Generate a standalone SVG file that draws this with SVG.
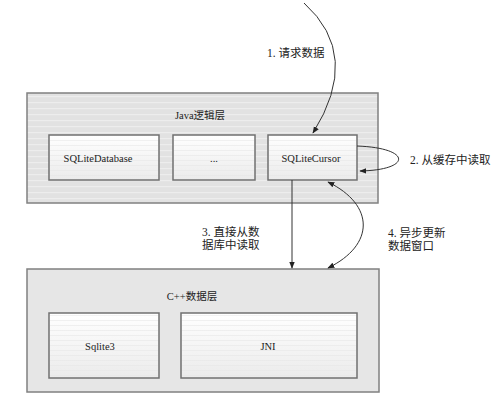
<svg xmlns="http://www.w3.org/2000/svg" width="501" height="401" viewBox="0 0 501 401">
<style>
.layer{fill:url(#outerStripe);stroke:#808080;stroke-width:1.5}
.layer2{fill:#e6e6e6;stroke:#808080;stroke-width:1.5}
.box{fill:url(#innerGrad);stroke:#707070;stroke-width:1.5}
.stripe{fill:url(#innerStripe);stroke:none}
.t{font-family:"Liberation Serif","Noto Sans CJK SC",serif;font-size:10.5px;fill:#222;text-anchor:middle}
.lbl{font-family:"Liberation Serif","Noto Sans CJK SC",serif;font-size:11.5px;fill:#222}
.c{fill:none;stroke:#333;stroke-width:1}
</style>
<defs>
<pattern id="outerStripe" width="10" height="6" patternUnits="userSpaceOnUse">
<rect width="10" height="6" fill="#e2e2e2"/>
<rect y="0" width="10" height="1.2" fill="#ededed"/>
</pattern>
<linearGradient id="innerGrad" x1="0" y1="0" x2="0" y2="1">
<stop offset="0" stop-color="#ffffff"/>
<stop offset="1" stop-color="#ebebeb"/>
</linearGradient>
<pattern id="innerStripe" width="10" height="5" patternUnits="userSpaceOnUse">
<rect y="0" width="10" height="0.8" fill="#e6e6e6" fill-opacity="0.7"/>
</pattern>
<marker id="ah" viewBox="0 0 10 10" refX="9" refY="5" markerWidth="7" markerHeight="7" orient="auto-start-reverse" markerUnits="userSpaceOnUse">
<path d="M0,1 L10,5 L0,9 Z" fill="#222"/>
</marker>
</defs>
<rect width="501" height="401" fill="#ffffff"/>
<g id="java-layer">
<rect class="layer" x="27" y="93" width="351" height="110"/>
<text class="t" x="200" y="119" font-size="11">Java逻辑层</text>
</g>
<g id="sqlitedatabase">
<rect class="box" x="49" y="135" width="110" height="45"/>
<rect class="stripe" x="50" y="136" width="108" height="43"/>
<text class="t" x="98" y="162">SQLiteDatabase</text>
</g>
<g id="ellipsis">
<rect class="box" x="173" y="135" width="82" height="45"/>
<rect class="stripe" x="174" y="136" width="80" height="43"/>
<text class="t" x="214" y="162">...</text>
</g>
<g id="sqlitecursor">
<rect class="box" x="268" y="135" width="89" height="45"/>
<rect class="stripe" x="269" y="136" width="87" height="43"/>
<text class="t" x="311" y="162">SQLiteCursor</text>
</g>
<g id="cpp-layer">
<rect class="layer2" x="27" y="269" width="352" height="123"/>
<text class="t" x="192" y="300" font-size="11">C++数据层</text>
</g>
<g id="sqlite3">
<rect class="box" x="49" y="313" width="110" height="65"/>
<rect class="stripe" x="50" y="314" width="108" height="63"/>
<text class="t" x="100" y="350">Sqlite3</text>
</g>
<g id="jni">
<rect class="box" x="181" y="313" width="176" height="65"/>
<rect class="stripe" x="182" y="314" width="174" height="63"/>
<text class="t" x="268" y="350">JNI</text>
</g>
<g id="connectors">
<path class="c" d="M304,3 Q362,55 313,133" marker-end="url(#ah)"/>
<path class="c" d="M357,146 C412,148 412,170 360,171" marker-end="url(#ah)"/>
<path class="c" d="M292,180 L292,268" marker-end="url(#ah)"/>
<path class="c" d="M328,182 C375,205 375,245 328,268" marker-start="url(#ah)" marker-end="url(#ah)"/>
</g>
<g id="labels">
<text class="lbl" x="267" y="57">1. 请求数据</text>
<text class="lbl" x="410" y="164">2. 从缓存中读取</text>
<text class="lbl" x="202" y="236">3. 直接从数</text>
<text class="lbl" x="202" y="249">据库中读取</text>
<text class="lbl" x="388" y="237">4. 异步更新</text>
<text class="lbl" x="388" y="250">数据窗口</text>
</g>
</svg>
